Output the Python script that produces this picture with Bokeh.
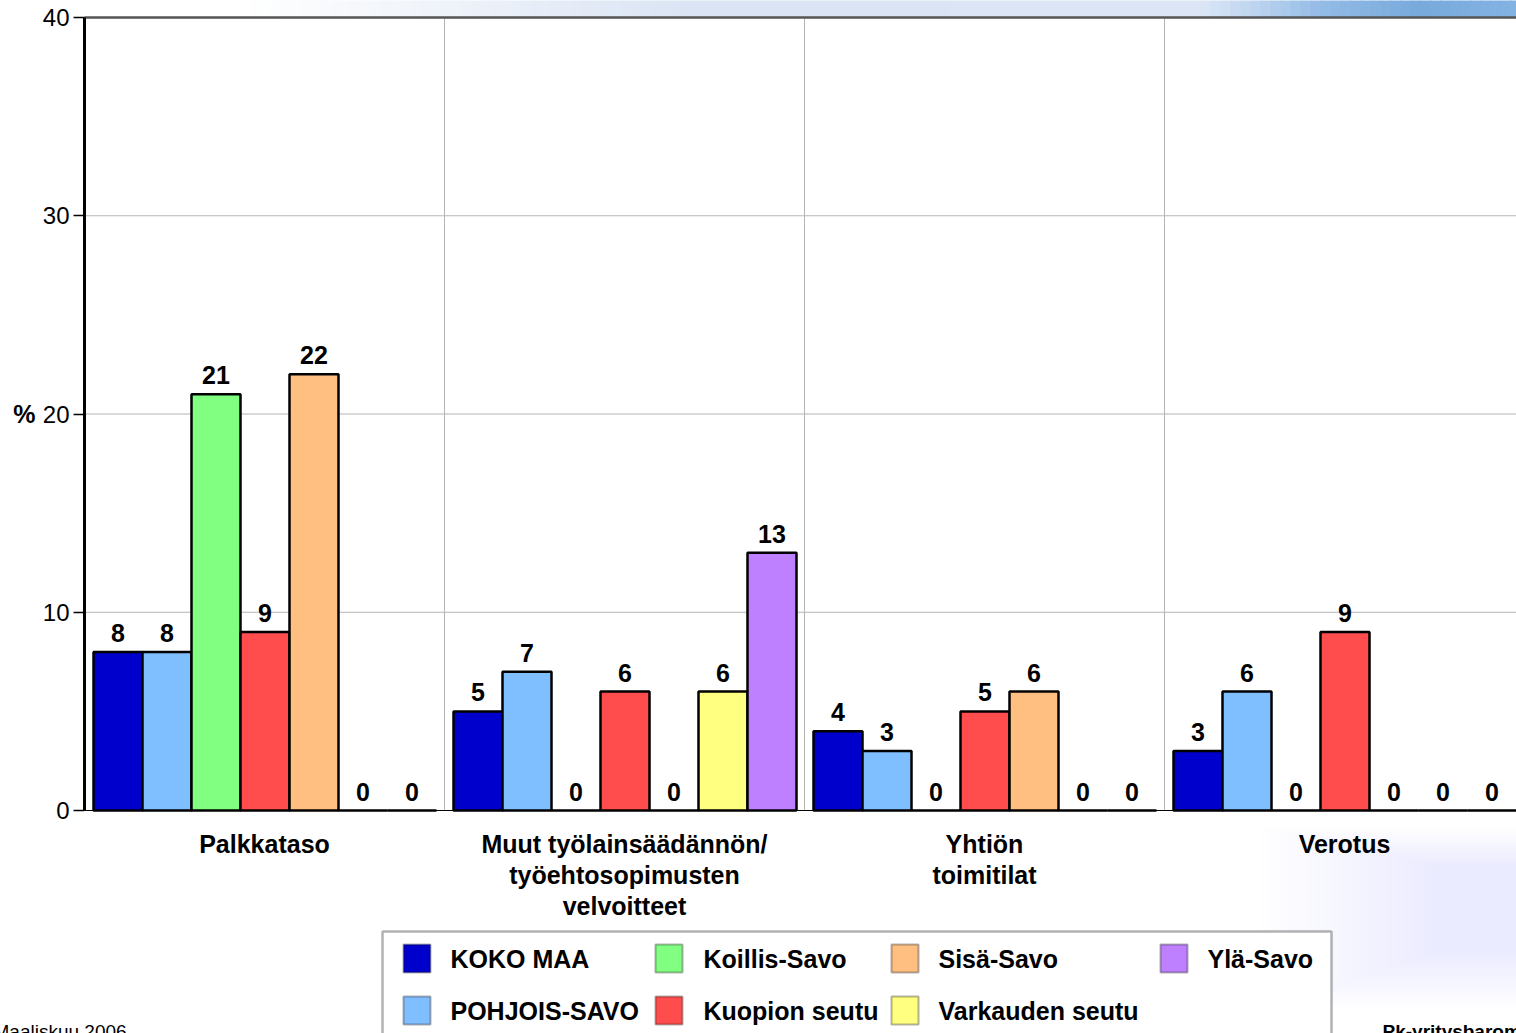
import numpy as np
from bokeh.plotting import figure
from bokeh.models import (Range1d, FixedTicker, Label, BoxAnnotation,
                          ColumnDataSource, LabelSet)
from bokeh.core.properties import value
from bokeh.embed import file_html
from bokeh.resources import INLINE

# ---------------- data ----------------
categories = [
    ["Palkkataso"],
    ["Muut työlainsäädännön/", "työehtosopimusten", "velvoitteet"],
    ["Yhtiön", "toimitilat"],
    ["Verotus"],
]
series = ["KOKO MAA", "POHJOIS-SAVO", "Koillis-Savo", "Kuopion seutu",
          "Sisä-Savo", "Varkauden seutu", "Ylä-Savo"]
koko_maa = [8, 5, 4, 3]
pohjois_savo = [8, 7, 3, 6]
koillis_savo = [21, 0, 0, 0]
kuopion_seutu = [9, 6, 5, 9]
sisa_savo = [22, 0, 6, 0]
varkauden_seutu = [0, 6, 0, 0]
yla_savo = [0, 13, 0, 0]
values = [koko_maa, pohjois_savo, koillis_savo, kuopion_seutu,
          sisa_savo, varkauden_seutu, yla_savo]
colors = ["#0000CC", "#80BFFF", "#80FF80", "#FF4D4D", "#FFBF80", "#FFFF80", "#BF80FF"]
y_ticks = [0, 10, 20, 30, 40]
grid_ticks = [10, 20, 30]
y_unit = "%"
footer_left = "Maaliskuu 2006"
footer_right = "Pk-yritysbarometri"

FONT = "Liberation Sans"

# ---------------- geometry ----------------
W, H = 1516, 1033
LEFT = 84            # pixel column of the value axis (x = 0)
ZERO_PX = 810        # pixel row of y = 0
TOP40_PX = 17        # pixel row of y = 40
CAT_PX = 360.0
PPU = (ZERO_PX - TOP40_PX) / 40.0


def xd(px):
    return (px - LEFT) / CAT_PX


def yd(py):
    return (ZERO_PX - py) / PPU


XEND = xd(W)

p = figure(width=W, height=H, output_backend="svg", toolbar_location=None,
           x_range=Range1d(xd(0), XEND), y_range=Range1d(yd(H), yd(0)),
           min_border_left=0, min_border_right=0, min_border_top=0,
           min_border_bottom=0)
p.outline_line_color = None
p.background_fill_color = "white"
p.border_fill_color = "white"

# axes
p.xaxis.visible = False
yax = p.yaxis[0]
yax.fixed_location = 0
yax.ticker = FixedTicker(ticks=y_ticks)
yax.bounds = (0, 40)
yax.axis_line_width = 3
yax.axis_line_color = "black"
yax.major_tick_out = 11
yax.major_tick_in = 0
yax.major_tick_line_width = 1.5
yax.minor_tick_line_color = None
yax.major_label_standoff = 4
yax.major_label_text_font = FONT
yax.major_label_text_font_size = "24px"
yax.major_label_text_color = "black"

# grids
p.xgrid.visible = False
p.ygrid.visible = False
p.segment(x0=0, y0=grid_ticks, x1=XEND, y1=grid_ticks, line_color="#b4b4b4", line_width=1)
p.segment(x0=[1, 2, 3], y0=0, x1=[1, 2, 3], y1=40, line_color="#b4b4b4", line_width=1)

# top gradient band (decoration)
stops = [(250, (255, 255, 255)), (700, (218, 228, 244)), (1200, (220, 230, 246)),
         (1250, (192, 214, 240)), (1320, (148, 188, 230)), (1420, (120, 170, 220)),
         (1520, (132, 180, 228))]
sx = [s[0] for s in stops]
edges = np.linspace(250, 1520, 128)
for a, b in zip(edges[:-1], edges[1:]):
    m = 0.5 * (a + b)
    rgb = [int(np.interp(m, sx, [s[1][k] for s in stops])) for k in range(3)]
    p.add_layout(BoxAnnotation(left=xd(a), right=xd(b + 1), bottom=40, top=yd(-5),
                               fill_color="#%02x%02x%02x" % tuple(rgb), fill_alpha=1,
                               line_color=None, level="underlay"))

# faint bottom-right glow (decoration)
for k in range(20):
    p.add_layout(BoxAnnotation(left=xd(1260 + 9 * k), right=xd(1530),
                               top=yd(826 + 2 * k), bottom=yd(1010 - 3 * k),
                               fill_color="#bcccE0", fill_alpha=0.011,
                               line_color=None, level="underlay"))

p.segment(x0=[0], y0=[40], x1=[XEND], y1=[40], line_color="#555555", line_width=2.5)

# bars
n = len(series)
group_off = 9 / CAT_PX
bar_w = 343 / n / CAT_PX
cat_idx = np.arange(len(categories))
lab_x, lab_y, lab_t = [], [], []
for j, (name, vals, col) in enumerate(zip(series, values, colors)):
    xs = cat_idx + group_off + bar_w * (j + 0.5)
    src = ColumnDataSource(dict(x=xs, top=vals))
    p.vbar(x="x", top="top", bottom=0, width=bar_w, source=src,
           fill_color=col, line_color="black", line_width=2.5)
    lab_x += list(xs)
    lab_y += list(vals)
    lab_t += [str(v) for v in vals]

p.segment(x0=[0], y0=[0], x1=[XEND], y1=[0], line_color="black", line_width=1.2)

lsrc = ColumnDataSource(dict(x=lab_x, y=lab_y, t=lab_t))
p.add_layout(LabelSet(x="x", y="y", text="t", source=lsrc, y_offset=10,
                      text_align="center", text_baseline="alphabetic",
                      text_font=value(FONT), text_font_style="bold",
                      text_font_size=value("25px"), text_color="black"))

# unit label
p.add_layout(Label(x=xd(35), y=20, text=y_unit, text_align="right",
                   text_baseline="middle", text_font=FONT, text_font_style="bold",
                   text_font_size="25px", text_color="black"))

# category labels
for i, lines in enumerate(categories):
    for k, line in enumerate(lines):
        p.add_layout(Label(x=i + 0.5, y=yd(843 + 31 * k), text=line,
                           text_align="center", text_baseline="middle",
                           text_font=FONT, text_font_style="bold",
                           text_font_size="25px", text_color="black"))

# legend (manual)
p.add_layout(BoxAnnotation(left=xd(382), right=xd(1331), top=yd(931), bottom=yd(1045),
                           fill_color="white", fill_alpha=1, line_color="black",
                           line_width=2.5))
sw_left = [403, 655, 891, 1160]
tx_left = [450, 703, 938, 1207]
row_y = [958, 1010]
for j, (name, col) in enumerate(zip(series, colors)):
    c, r = j // 2, j % 2
    p.add_layout(BoxAnnotation(left=xd(sw_left[c]), right=xd(sw_left[c] + 27),
                               top=yd(row_y[r] - 14), bottom=yd(row_y[r] + 14),
                               fill_color=col, fill_alpha=1, line_color="black",
                               line_width=2))
    p.add_layout(Label(x=xd(tx_left[c]), y=yd(row_y[r]), text=name,
                       text_align="left", text_baseline="middle",
                       text_font=FONT, text_font_style="bold",
                       text_font_size="25px", text_color="black"))

# footers
p.add_layout(Label(x=xd(-7), y=yd(1031), text=footer_left, text_align="left",
                   text_baseline="alphabetic", text_font=FONT,
                   text_font_size="19px", text_color="black"))
p.add_layout(Label(x=xd(1382), y=yd(1031), text=footer_right, text_align="left",
                   text_baseline="alphabetic", text_font=FONT, text_font_style="bold",
                   text_font_size="19px", text_color="black"))

open("out.html", "w").write(file_html(p, INLINE))
